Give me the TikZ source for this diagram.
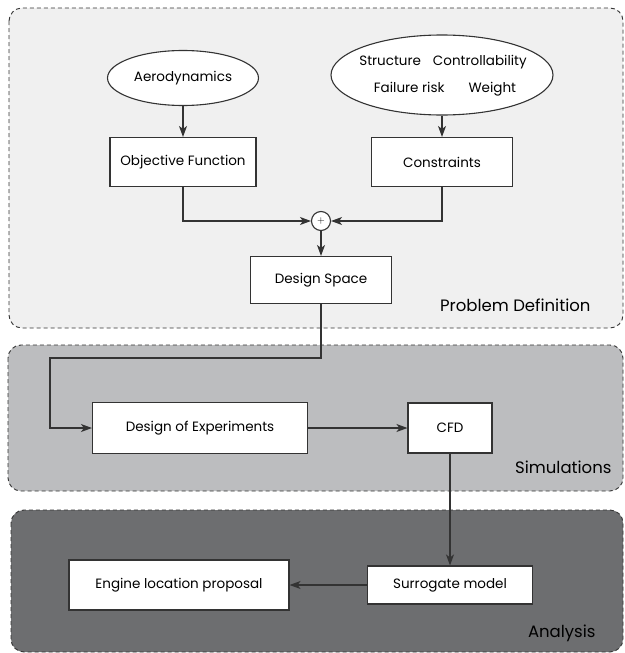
\documentclass[tikz,border=0pt]{standalone}
\usepackage{fontspec}
\setmainfont{Poppins}
\usetikzlibrary{arrows.meta,shapes.geometric}

\definecolor{defgray}{HTML}{F0F0F0}
\definecolor{simgray}{HTML}{BCBDBF}
\definecolor{anagray}{HTML}{6D6E70}
\definecolor{inkgray}{HTML}{333333}

\tikzset{
  panel/.style={draw=inkgray, dash pattern=on 4pt off 3pt, line width=0.9pt, rounded corners=13pt},
  blockbox/.style={draw=inkgray, fill=white, line width=1.1pt, font=\fontsize{13.5}{15}\selectfont},
  topic/.style={draw=inkgray, fill=white, ellipse, line width=1.1pt, inner sep=0pt, font=\fontsize{13.5}{15}\selectfont},
  flow/.style={draw=inkgray, line width=1.1pt, -{Stealth[length=11pt,width=8pt,inset=3pt]}},
  paneltag/.style={anchor=east, font=\fontsize{16.5}{18}\selectfont}
}

\begin{document}
\begin{tikzpicture}[x=1pt, y=-1pt]
\useasboundingbox (0,0) rectangle (624,653);
% panels
\draw[panel, fill=defgray] (9,8) rectangle (623,328);
\draw[panel, fill=simgray] (8,345) rectangle (623,491);
\draw[panel, fill=anagray] (11,510) rectangle (623,652);
\node[paneltag] (deftag) at (594,305) {Problem Definition};
\node[paneltag] (simtag) at (615,467) {Simulations};
\node[paneltag] (anatag) at (599,633) {Analysis};

% problem definition
\node[topic, minimum width=151pt, minimum height=55pt] (aero) at (183,78) {Aerodynamics};
\node[topic, minimum width=222pt, minimum height=80pt] (crit) at (442,75) {};
\node[font=\fontsize{13.5}{15}\selectfont] (critup) at (443,62) {Structure\hspace{12pt}Controllability};
\node[font=\fontsize{13.5}{15}\selectfont] (critdown) at (445,89) {Failure risk\hspace{24pt}Weight};
\node[blockbox, minimum width=146pt, minimum height=49pt] (objfun) at (183,162) {Objective Function};
\node[blockbox, minimum width=141pt, minimum height=49pt] (cons) at (442,162) {Constraints};
\node[draw=inkgray, fill=white, circle, line width=1.1pt, minimum size=19pt, inner sep=0pt] (sum) at (321,221) {$+$};
\node[blockbox, minimum width=141pt, minimum height=47pt] (dspace) at (321,280) {Design Space};

% simulations
\node[blockbox, minimum width=215pt, minimum height=51pt] (doe) at (200,428) {Design of Experiments};
\node[blockbox, minimum width=84pt, minimum height=50pt] (cfd) at (450,428) {CFD};

% analysis
\node[blockbox, minimum width=165pt, minimum height=38pt] (surr) at (450,585) {Surrogate model};
\node[blockbox, minimum width=220pt, minimum height=50pt] (engine) at (179,585) {Engine location proposal};

\coordinate (bend) at (50,358);

\draw[flow] (aero) -- (objfun);
\draw[flow] (crit) -- (cons);
\draw[flow] (objfun.south) |- (sum.west);
\draw[flow] (cons.south) |- (sum.east);
\draw[flow] (sum) -- (dspace);
\draw[flow] (dspace.south) |- (bend) |- (doe.west);
\draw[flow] (doe) -- (cfd);
\draw[flow] (cfd) -- (surr);
\draw[flow] (surr) -- (engine);
\end{tikzpicture}
\end{document}
